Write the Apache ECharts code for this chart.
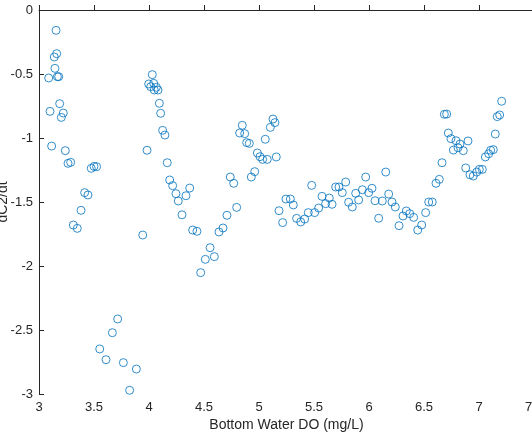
<!DOCTYPE html>
<html>
<head>
<meta charset="utf-8">
<script src="https://cdn.jsdelivr.net/npm/echarts@6/dist/echarts.min.js"></script>
<style>
  html, body { margin: 0; padding: 0; background: #fff; }
  #main { width: 532px; height: 440px; }
</style>
</head>
<body>
<div id="main"></div>
<script>
// bottom water DO (mg/L) and dC2/dt
var doValues = [
  3.155, 3.161, 3.139, 3.145, 3.088, 3.167, 3.179, 3.100, 3.188, 3.221,
  3.203, 3.115, 3.239, 3.264, 3.288, 3.475, 3.500, 3.524, 3.415, 3.445,
  3.382, 3.312, 3.348, 3.943, 3.715, 3.667, 3.552, 3.609, 3.767, 3.885,
  3.824, 4.030, 3.997, 4.043, 4.015, 4.048, 4.067, 4.082, 4.094, 4.106,
  4.124, 4.145, 3.982, 4.166, 4.188, 4.215, 4.245, 4.266, 4.300, 4.336,
  4.370, 4.397, 4.436, 4.555, 4.512, 4.594, 4.470, 4.636, 4.673, 4.709,
  4.797, 4.739, 4.770, 4.930, 4.961, 4.848, 4.824, 4.870, 4.888, 4.912,
  4.985, 5.009, 5.033, 5.075, 5.057, 5.103, 5.127, 5.145, 5.157, 5.182,
  5.215, 5.245, 5.285, 5.312, 5.342, 5.379, 5.415, 5.448, 5.506, 5.542,
  5.479, 5.573, 5.606, 5.639, 5.664, 5.697, 5.727, 5.757, 5.788, 5.815,
  5.848, 5.879, 5.906, 5.940, 5.970, 5.997, 6.027, 6.055, 6.088, 6.121,
  6.152, 6.179, 6.209, 6.239, 6.273, 6.309, 6.339, 6.370, 6.406, 6.443,
  6.479, 6.515, 6.543, 6.575, 6.609, 6.639, 6.664, 6.685, 6.706, 6.721,
  6.745, 6.791, 6.827, 6.809, 6.767, 6.857, 6.900, 6.879, 6.918, 6.948,
  6.979, 7.003, 7.030, 7.058, 7.088, 7.106, 7.130, 7.148, 7.166, 7.188,
  7.206
];
var dcdt = [
  -0.159, -0.341, -0.367, -0.456, -0.531, -0.521, -0.521, -0.792, -0.732, -0.805,
  -0.839, -1.063, -1.099, -1.198, -1.190, -1.237, -1.222, -1.224, -1.427, -1.445,
  -1.565, -1.680, -1.706, -1.758, -2.414, -2.521, -2.648, -2.732, -2.755, -2.805,
  -2.971, -0.505, -0.578, -0.573, -0.599, -0.625, -0.604, -0.625, -0.729, -0.807,
  -0.940, -0.977, -1.096, -1.193, -1.328, -1.372, -1.435, -1.492, -1.600, -1.451,
  -1.391, -1.719, -1.729, -1.857, -1.948, -1.927, -2.052, -1.734, -1.703, -1.604,
  -1.542, -1.305, -1.354, -1.305, -1.263, -0.901, -0.961, -0.966, -1.036, -1.042,
  -1.117, -1.146, -1.167, -1.167, -1.010, -0.917, -0.852, -0.880, -1.148, -1.568,
  -1.661, -1.477, -1.477, -1.523, -1.628, -1.656, -1.633, -1.583, -1.583, -1.547,
  -1.370, -1.456, -1.513, -1.469, -1.518, -1.383, -1.383, -1.427, -1.344, -1.502,
  -1.539, -1.432, -1.484, -1.404, -1.305, -1.427, -1.393, -1.490, -1.627, -1.492,
  -1.266, -1.438, -1.500, -1.539, -1.685, -1.609, -1.570, -1.591, -1.620, -1.719,
  -1.680, -1.583, -1.500, -1.500, -1.354, -1.323, -1.193, -0.815, -0.813, -0.961,
  -1.005, -1.021, -1.047, -1.076, -1.094, -1.099, -1.023, -1.234, -1.287, -1.297,
  -1.266, -1.245, -1.245, -1.148, -1.123, -1.096, -1.091, -0.969, -0.833, -0.820,
  -0.713
];

var points = doValues.map(function (x, i) { return [x, dcdt[i]]; });

var axisColor = '#262626';
var fontFam = 'Liberation Sans, Arial, sans-serif';

var myChart = echarts.init(document.getElementById('main'));
var option = {
  animation: false,
  grid: { left: 39, top: 10, width: 495, height: 384, outerBoundsMode: 'none', containLabel: false },
  xAxis: {
    type: 'value',
    min: 3, max: 7.5, interval: 0.5,
    name: 'Bottom Water DO (mg/L)',
    nameLocation: 'middle',
    nameGap: 24,
    nameMoveOverlap: false,
    nameTextStyle: { color: axisColor, fontSize: 14, fontFamily: fontFam },
    axisLine: { lineStyle: { color: axisColor, width: 1 } },
    axisTick: { inside: true, length: 5, lineStyle: { color: axisColor } },
    axisLabel: { color: axisColor, fontSize: 13, fontFamily: fontFam, margin: 7, showMaxLabel: true },
    splitLine: { show: false }
  },
  yAxis: {
    type: 'value',
    min: -3, max: 0, interval: 0.5,
    name: 'dC2/dt',
    nameLocation: 'middle',
    nameGap: 29,
    nameMoveOverlap: false,
    nameTextStyle: { color: axisColor, fontSize: 14, fontFamily: fontFam },
    axisLine: { show: true, lineStyle: { color: axisColor, width: 1 } },
    axisTick: { show: true, inside: true, length: 5, lineStyle: { color: axisColor } },
    axisLabel: { color: axisColor, fontSize: 13, fontFamily: fontFam, margin: 6 },
    splitLine: { show: false }
  },
  series: [{
    type: 'scatter',
    data: points,
    symbol: 'circle',
    symbolSize: 8,
    itemStyle: { color: 'rgba(0,0,0,0)', borderColor: '#0072BD', borderWidth: 1 }
  }]
};
myChart.setOption(option);
</script>
</body>
</html>
